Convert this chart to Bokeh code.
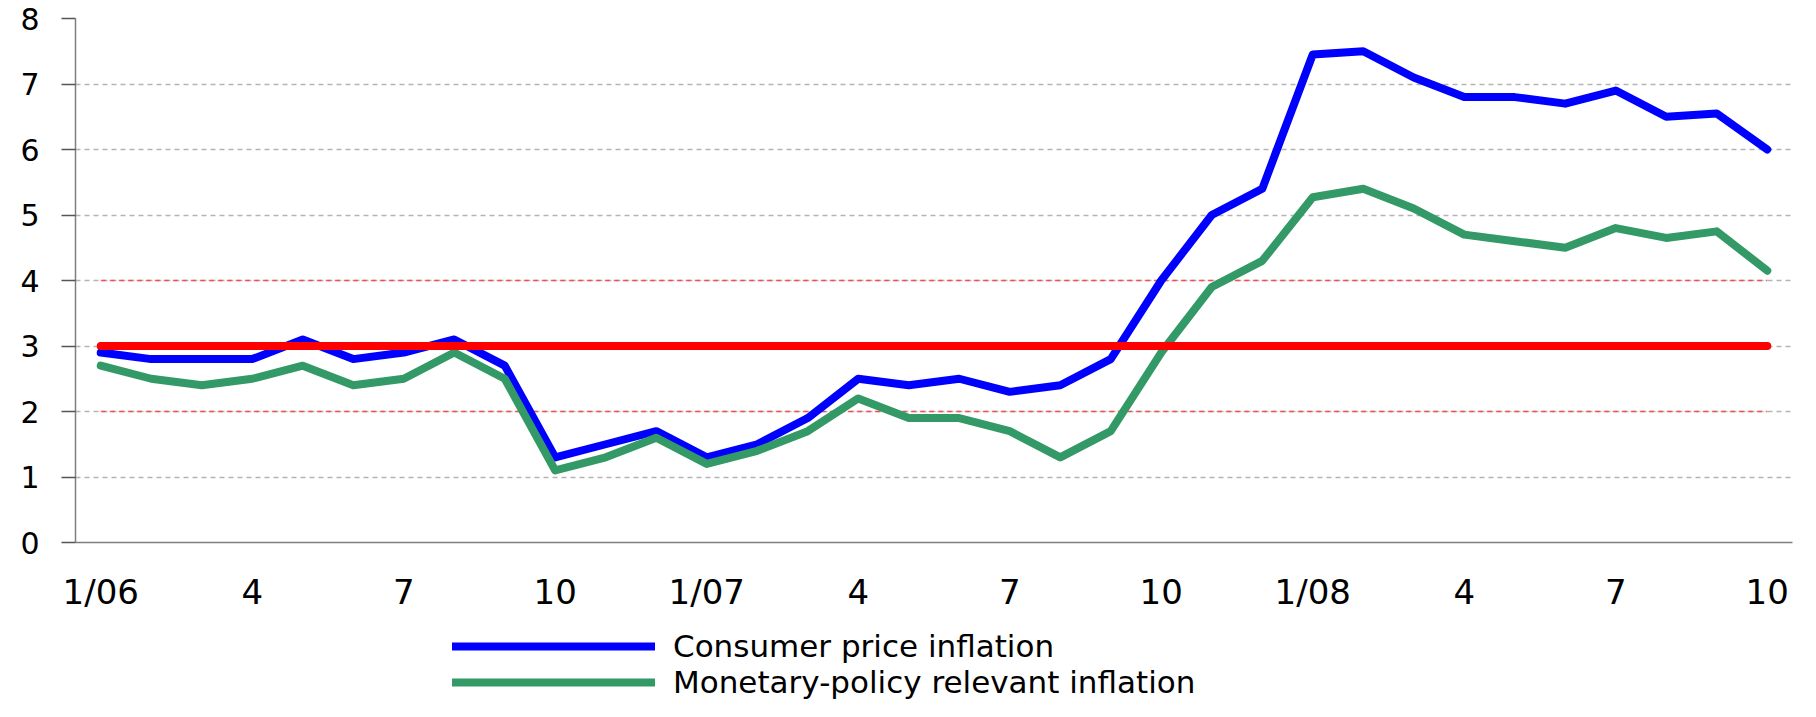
from bokeh.plotting import figure
from bokeh.layouts import column
from bokeh.models import Range1d, FixedTicker, Legend, LegendItem, ColumnDataSource
from bokeh.embed import file_html
from bokeh.resources import INLINE

# ---- data -------------------------------------------------------------
months = ["Jan 06", "Feb 06", "Mar 06", "Apr 06", "May 06", "Jun 06", "Jul 06", "Aug 06",
          "Sep 06", "Oct 06", "Nov 06", "Dec 06",
          "Jan 07", "Feb 07", "Mar 07", "Apr 07", "May 07", "Jun 07", "Jul 07", "Aug 07",
          "Sep 07", "Oct 07", "Nov 07", "Dec 07",
          "Jan 08", "Feb 08", "Mar 08", "Apr 08", "May 08", "Jun 08", "Jul 08", "Aug 08",
          "Sep 08", "Oct 08"]

cpi = [2.9, 2.8, 2.8, 2.8, 3.1, 2.8, 2.9, 3.1, 2.7, 1.3,
       1.5, 1.7, 1.3, 1.5, 1.9, 2.5, 2.4, 2.5, 2.3, 2.4, 2.8,
       4.0, 5.0, 5.4, 7.45, 7.5, 7.1, 6.8, 6.8, 6.7, 6.9, 6.5, 6.55, 6.0]

mpr = [2.7, 2.5, 2.4, 2.5, 2.7, 2.4, 2.5, 2.9, 2.5, 1.1,
       1.3, 1.6, 1.2, 1.4, 1.7, 2.2, 1.9, 1.9, 1.7, 1.3, 1.7,
       2.9, 3.9, 4.3, 5.27, 5.4, 5.1, 4.7, 4.6, 4.5, 4.8, 4.65, 4.75, 4.15]

target = 3.0
band = [2.0, 4.0]

x_tick_pos = [0, 3, 6, 9, 12, 15, 18, 21, 24, 27, 30, 33]
x_tick_labels = ["1/06", "4", "7", "10", "1/07", "4", "7", "10", "1/08", "4", "7", "10"]
y_ticks = [0, 1, 2, 3, 4, 5, 6, 7, 8]

labels = ["Consumer price inflation", "Monetary-policy relevant inflation"]

# ---- styles -----------------------------------------------------------
FONT = "DejaVu Sans"
CPI_STYLE = dict(line_color="#0000ff", line_width=8, line_cap="round", line_join="round")
MPR_STYLE = dict(line_color="#339966", line_width=8, line_cap="round", line_join="round")

idx = list(range(len(months)))
src = ColumnDataSource(dict(x=idx, month=months, cpi=cpi, mpr=mpr,
                            target=[target] * len(months),
                            lo=[band[0]] * len(months),
                            hi=[band[1]] * len(months)))

# ---- main chart -------------------------------------------------------
p = figure(width=1800, height=614, output_backend="svg", toolbar_location=None,
           x_range=Range1d(-0.5, len(months) - 0.5), y_range=Range1d(0, 8),
           min_border_left=75, min_border_right=8, min_border_top=18,
           min_border_bottom=68)
p.outline_line_color = None
p.background_fill_color = "white"
p.border_fill_color = "white"

p.xgrid.visible = False
p.ygrid.ticker = FixedTicker(ticks=y_ticks)
p.ygrid.grid_line_color = "#b4b4b4"
p.ygrid.grid_line_dash = "5 4"
p.ygrid.grid_line_width = 1.5

p.yaxis.ticker = FixedTicker(ticks=y_ticks)
p.yaxis.axis_line_color = "#7f7f7f"
p.yaxis.axis_line_width = 1.5
p.yaxis.major_tick_line_color = "#555555"
p.yaxis.major_tick_line_width = 1.5
p.yaxis.major_tick_out = 14
p.yaxis.major_tick_in = 0
p.yaxis.minor_tick_line_color = None
p.yaxis.major_label_text_font = FONT
p.yaxis.major_label_text_font_size = "30px"
p.yaxis.major_label_text_color = "black"
p.yaxis.major_label_standoff = 22

p.xaxis.ticker = FixedTicker(ticks=x_tick_pos)
p.xaxis.major_label_overrides = {pos: lab for pos, lab in zip(x_tick_pos, x_tick_labels)}
p.xaxis.axis_line_color = "#7f7f7f"
p.xaxis.axis_line_width = 1.5
p.xaxis.major_tick_line_color = None
p.xaxis.major_tick_out = 0
p.xaxis.major_tick_in = 0
p.xaxis.minor_tick_line_color = None
p.xaxis.major_label_text_font = FONT
p.xaxis.major_label_text_font_size = "34px"
p.xaxis.major_label_text_color = "black"
p.xaxis.major_label_standoff = 29

for col in ("lo", "hi"):
    p.line("x", col, source=src, line_color="#ff3333", line_width=1.3,
           line_dash="5 4", line_alpha=0.8)

p.line("x", "cpi", source=src, **CPI_STYLE)
p.line("x", "mpr", source=src, **MPR_STYLE)
p.line("x", "target", source=src, line_color="#ff0000", line_width=8, line_cap="round")

# ---- legend strip (same series, view placed away from the data) -------
q = figure(width=1800, height=86, output_backend="svg", toolbar_location=None,
           x_range=Range1d(-0.5, len(months) - 0.5), y_range=Range1d(-20, -19),
           x_axis_location=None, y_axis_location=None,
           min_border_left=0, min_border_right=0, min_border_top=0, min_border_bottom=0)
q.grid.visible = False
q.outline_line_color = None
q.background_fill_color = "white"
q.border_fill_color = "white"
l_cpi = q.line("x", "cpi", source=src, **CPI_STYLE)
l_mpr = q.line("x", "mpr", source=src, **MPR_STYLE)

legend = Legend(items=[LegendItem(label=labels[0], renderers=[l_cpi]),
                       LegendItem(label=labels[1], renderers=[l_mpr])],
                location=(377, 0), orientation="vertical",
                glyph_width=203, glyph_height=30, label_height=30,
                label_standoff=18, spacing=0, padding=0, margin=0,
                border_line_color=None, background_fill_alpha=0,
                label_text_font=FONT, label_text_font_size="31px",
                label_text_line_height=0.95,
                label_text_color="black")
q.add_layout(legend)

layout = column(p, q, spacing=0)
open("out.html", "w").write(file_html(layout, INLINE))
